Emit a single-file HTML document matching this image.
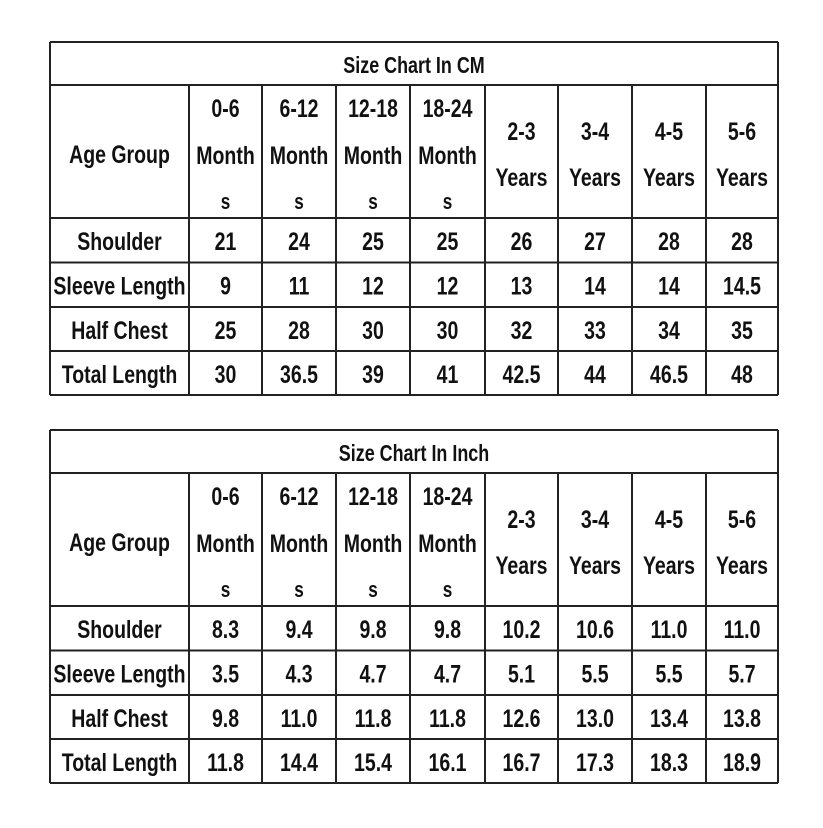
<!DOCTYPE html>
<html><head><style>
body{margin:0;background:#fff;}
svg text{font-family:"Liberation Sans",sans-serif;font-weight:bold;font-size:25px;fill:#111;text-anchor:middle;}
</style></head><body>
<svg width="823" height="823" xmlns="http://www.w3.org/2000/svg">
</svg>
<script>
const xs=[50,189,262,336,410,485,558,632,706,778];
const ns="http://www.w3.org/2000/svg";
const svg=document.querySelector('svg');
function line(x1,y1,x2,y2){const l=document.createElementNS(ns,'line');l.setAttribute('x1',x1);l.setAttribute('y1',y1);l.setAttribute('x2',x2);l.setAttribute('y2',y2);l.setAttribute('stroke','#222');l.setAttribute('stroke-width','2');svg.appendChild(l);}
function txt(x,y,s,sz){const t=document.createElementNS(ns,'text');t.setAttribute('x',0);t.setAttribute('y',0);t.setAttribute('transform',`translate(${x},${y}) scale(0.78,1)`);if(sz)t.style.fontSize=sz+'px';t.textContent=s;svg.appendChild(t);}
function table(top,title,rows){
 const tb=top+43, hb=tb+133;
 const rb=[hb,hb+44.5,hb+89,hb+133,hb+177];
 line(50,top,778,top);line(50,tb,778,tb);
 rb.forEach(y=>line(50,y,778,y));
 line(50,top,50,rb[4]);line(778,top,778,rb[4]);
 for(let i=1;i<9;i++)line(xs[i],tb,xs[i],rb[4]);
 txt(414,tb-12,title,23);
 const c=i=>(xs[i]+xs[i+1])/2;
 txt(c(0),tb+78,'Age Group');
 const mh=['0-6','6-12','12-18','18-24'];
 mh.forEach((m,i)=>{txt(c(i+1),tb+32,m);txt(c(i+1),tb+79,'Month');txt(c(i+1),tb+124,'s',22);});
 ['2-3','3-4','4-5','5-6'].forEach((m,i)=>{txt(c(i+5),tb+55,m);txt(c(i+5),tb+101,'Years');});
 rows.forEach((r,j)=>{r.forEach((v,i)=>txt(c(i),rb[j]+32,v));});
}
table(42,'Size Chart In CM',[
['Shoulder','21','24','25','25','26','27','28','28'],
['Sleeve Length','9','11','12','12','13','14','14','14.5'],
['Half Chest','25','28','30','30','32','33','34','35'],
['Total Length','30','36.5','39','41','42.5','44','46.5','48']]);
table(430,'Size Chart In Inch',[
['Shoulder','8.3','9.4','9.8','9.8','10.2','10.6','11.0','11.0'],
['Sleeve Length','3.5','4.3','4.7','4.7','5.1','5.5','5.5','5.7'],
['Half Chest','9.8','11.0','11.8','11.8','12.6','13.0','13.4','13.8'],
['Total Length','11.8','14.4','15.4','16.1','16.7','17.3','18.3','18.9']]);
</script>
</body></html>
